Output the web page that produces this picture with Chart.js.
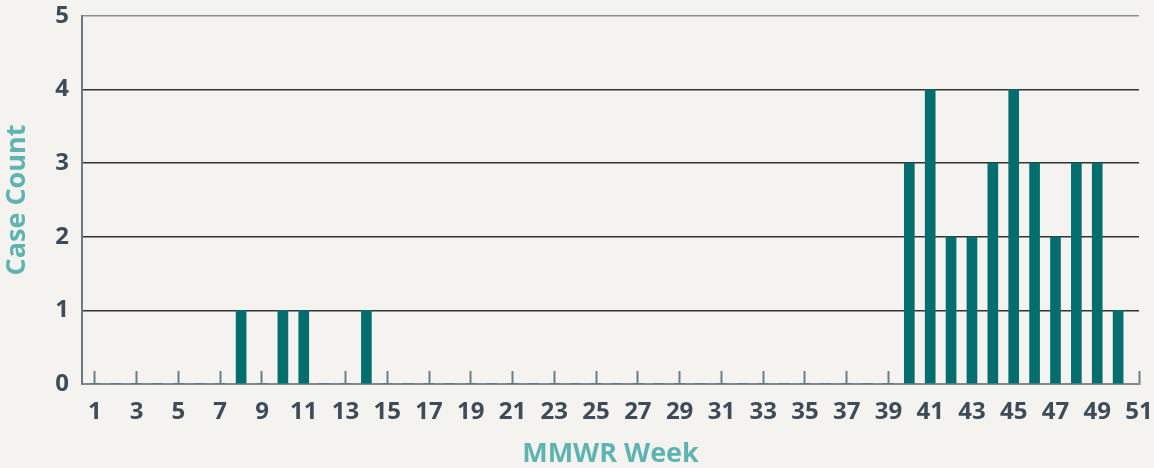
<!DOCTYPE html>
<html>
<head>
<meta charset="utf-8">
<script src="https://cdn.jsdelivr.net/npm/chart.js@4/dist/chart.umd.min.js"></script>
<style>
	html, body { margin: 0; padding: 0; background: #f4f3ef; }
	#wrap { width: 1154px; height: 468px; position: relative; }
</style>
</head>
<body>
<div id="wrap"><canvas id="bar-chartcanvas"></canvas></div>
<script>
// MMWR weeks shown on the axis
var weeks = [1, 2, 3, 4, 5, 6, 7, 8, 9, 10, 11, 12, 13, 14, 15, 16, 17, 18, 19, 20,
	21, 22, 23, 24, 25, 26, 27, 28, 29, 30, 31, 32, 33, 34, 35, 36, 37, 38, 39, 40,
	41, 42, 43, 44, 45, 46, 47, 48, 49, 50];

// case count per week
var caseCounts = [0, 0, 0, 0, 0, 0, 0, 1, 0, 1, 1, 0, 0, 1, 0, 0, 0, 0, 0, 0,
	0, 0, 0, 0, 0, 0, 0, 0, 0, 0, 0, 0, 0, 0, 0, 0, 0, 0, 0, 3,
	4, 2, 2, 3, 4, 3, 2, 3, 3, 1];

var xTickLabels = [1, 3, 5, 7, 9, 11, 13, 15, 17, 19, 21, 23, 25, 27, 29, 31, 33,
	35, 37, 39, 41, 43, 45, 47, 49, 51];
var yTickLabels = [0, 1, 2, 3, 4, 5];

var points = [];
for (var i = 0; i < weeks.length; i++) {
	points.push({ x: weeks[i], y: caseCounts[i] });
}

var tickColor = "#3d4c58";
var titleColor = "#5fb4b2";
var fontFamily = "'Open Sans', sans-serif";

var ctx = document.getElementById("bar-chartcanvas");

var chart = new Chart(ctx, {
	type: "bar",
	data: {
		datasets: [
			{
				label: "Case Count",
				data: points,
				backgroundColor: "#046e6e",
				borderWidth: 0,
				barThickness: 10
			}
		]
	},
	options: {
		responsive: true,
		maintainAspectRatio: false,
		animation: false,
		layout: { padding: { top: 16, right: 15, left: 0, bottom: 0 } },
		plugins: {
			legend: { display: false },
			tooltip: { enabled: false }
		},
		scales: {
			x: {
				type: "linear",
				offset: false,
				min: 0.38,
				max: 51,
				afterBuildTicks: function(scale) {
					scale.ticks = xTickLabels.map(function(v) { return { value: v }; });
				},
				afterFit: function(scale) {
					scale.height = 84;
					scale.paddingLeft = 0;
					scale.paddingRight = 0;
				},
				grid: {
					offset: false,
					drawOnChartArea: false,
					drawTicks: true,
					tickLength: -13,
					tickWidth: 2,
					tickColor: "#6f7c86"
				},
				border: { color: "#7f8a92", width: 2 },
				ticks: {
					color: tickColor,
					padding: 27,
					maxRotation: 0,
					autoSkip: false,
					font: { family: fontFamily, size: 24, weight: "bold" }
				},
				title: {
					display: true,
					text: "MMWR Week",
					color: titleColor,
					padding: 0,
					font: { family: fontFamily, size: 27, weight: "bold", lineHeight: 1 }
				}
			},
			y: {
				min: 0,
				max: 5,
				afterBuildTicks: function(scale) {
					scale.ticks = yTickLabels.map(function(v) { return { value: v }; });
				},
				afterFit: function(scale) {
					scale.width = 82;
					scale.paddingTop = 0;
					scale.paddingBottom = 0;
				},
				grid: {
					drawTicks: false,
					lineWidth: 1.5,
					color: function(c) {
						if (c.tick && c.tick.value === 5) return "#8a9298";
						if (c.tick && c.tick.value === 0) return "rgba(0,0,0,0)";
						return "#333333";
					}
				},
				border: { color: "#6b7880", width: 2 },
				ticks: {
					color: tickColor,
					padding: 13,
					font: { family: fontFamily, size: 24, weight: "bold" }
				},
				title: {
					display: true,
					text: "Case Count",
					color: titleColor,
					padding: { top: 4, bottom: 0 },
					font: { family: fontFamily, size: 27, weight: "bold", lineHeight: 1 }
				}
			}
		}
	}
});
</script>
</body>
</html>
